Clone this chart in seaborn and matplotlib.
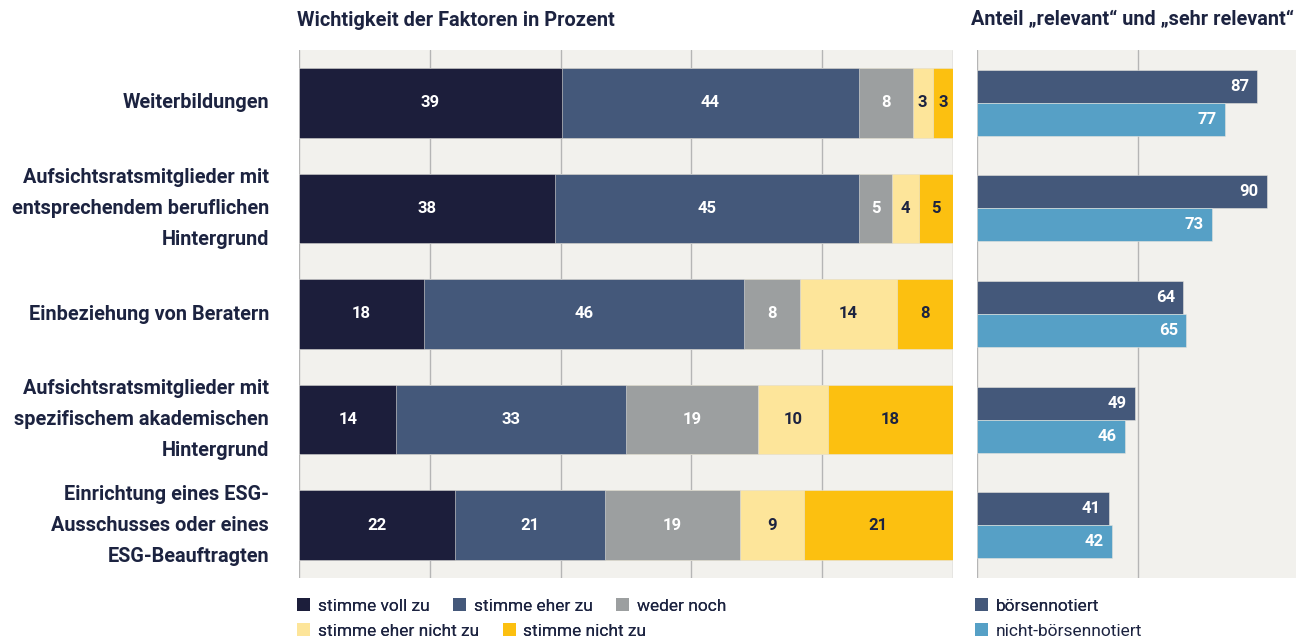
import matplotlib
matplotlib.use("Agg")
import matplotlib.pyplot as plt
from matplotlib.patches import Patch
import seaborn as sns
import pandas as pd
import numpy as np

# ---------------- data ----------------
categories = [
    "Weiterbildungen",
    "Aufsichtsratsmitglieder mit\nentsprechendem beruflichen\nHintergrund",
    "Einbeziehung von Beratern",
    "Aufsichtsratsmitglieder mit\nspezifischem akademischen\nHintergrund",
    "Einrichtung eines ESG-\nAusschusses oder eines\nESG-Beauftragten",
]
stimme_voll_zu = [39, 38, 18, 14, 22]
stimme_eher_zu = [44, 45, 46, 33, 21]
weder_noch = [8, 5, 8, 19, 19]
stimme_eher_nicht_zu = [3, 4, 14, 10, 9]
stimme_nicht_zu = [3, 5, 8, 18, 21]
series_names = ["stimme voll zu", "stimme eher zu", "weder noch",
                "stimme eher nicht zu", "stimme nicht zu"]

boersennotiert = [87, 90, 64, 49, 41]
nicht_boersennotiert = [77, 73, 65, 46, 42]
group_names = ["börsennotiert", "nicht-börsennotiert"]

title_left = "Wichtigkeit der Faktoren in Prozent"
title_right = "Anteil \u201erelevant\u201c und \u201esehr relevant\u201c"

# ---------------- style ----------------
seg_colors = ["#1c1e3b", "#44587a", "#9c9fa0", "#fde59a", "#fcc010"]
seg_text = ["white", "white", "white", "#1c2340", "#1c2340"]
grp_colors = ["#44587a", "#56a0c6"]
bg = "#f2f1ed"
grid_c = "#b5b5b5"
txt_c = "#1c2340"

sns.set_theme(style="white")
plt.rcParams["font.family"] = ["Roboto", "DejaVu Sans"]

W, H = 1296, 639
fig = plt.figure(figsize=(W / 100, H / 100), dpi=100)
fig.patch.set_facecolor("white")

def fx(px):
    return px / W

def fy(py):
    return 1 - py / H

ax_l = fig.add_axes([fx(299), fy(578), fx(654), fy(50) - fy(578)])
ax_r = fig.add_axes([fx(977), fy(578), fx(322), fy(50) - fy(578)])

# ---------------- left: stacked percent bars ----------------
raw = np.array([stimme_voll_zu, stimme_eher_zu, weder_noch,
                stimme_eher_nicht_zu, stimme_nicht_zu], dtype=float)
totals = raw.sum(axis=0)
share = raw / totals * 100
cum = np.cumsum(share, axis=0)

ax_l.set_facecolor(bg)
for i in range(len(series_names) - 1, -1, -1):
    df = pd.DataFrame({"cat": categories, "val": cum[i]})
    sns.barplot(data=df, y="cat", x="val", orient="h", ax=ax_l,
                color=seg_colors[i], saturation=1, width=0.66,
                edgecolor="#e6e4de", linewidth=0.4, zorder=3)

for i in range(len(series_names)):
    starts = cum[i] - share[i]
    for j in range(len(categories)):
        ax_l.text(starts[j] + share[i][j] / 2, j, f"{int(raw[i][j])}",
                  ha="center", va="center", fontsize=12, fontweight="bold",
                  color=seg_text[i], zorder=5)

ax_l.set_xlim(0, 100)
ax_l.set_ylim(4.5, -0.5)
ax_l.set_xticks([0, 20, 40, 60, 80, 100])
ax_l.xaxis.grid(True, color=grid_c, linewidth=1, zorder=0)
ax_l.set_axisbelow(True)
ax_l.tick_params(axis="x", length=0, labelbottom=False)
ax_l.set_yticks(range(len(categories)))
ax_l.set_yticklabels(categories, fontsize=14.3, fontweight="bold",
                     color=txt_c, linespacing=1.8, ha="right", va="center")
ax_l.tick_params(axis="y", length=0, pad=21.5)
ax_l.set_xlabel("")
ax_l.set_ylabel("")
for s in ax_l.spines.values():
    s.set_visible(False)

# ---------------- right: grouped bars ----------------
df_r = pd.DataFrame({
    "cat": categories * 2,
    "val": boersennotiert + nicht_boersennotiert,
    "grp": [group_names[0]] * len(categories) + [group_names[1]] * len(categories),
})
ax_r.set_facecolor(bg)
sns.barplot(data=df_r, y="cat", x="val", hue="grp", orient="h", ax=ax_r,
            palette=grp_colors, saturation=1, width=0.625, dodge=True,
            edgecolor="#e6e4de", linewidth=0.4, legend=False, zorder=3)

for k, vals in enumerate([boersennotiert, nicht_boersennotiert]):
    off = -0.156 if k == 0 else 0.156
    for j, v in enumerate(vals):
        ax_r.text(v - 2.5, j + off, f"{v}", ha="right", va="center",
                  fontsize=12, fontweight="bold", color="white", zorder=5)

ax_r.set_xlim(0, 100)
ax_r.set_ylim(4.5, -0.5)
ax_r.set_xticks([0, 50])
ax_r.xaxis.grid(True, color=grid_c, linewidth=1, zorder=0)
ax_r.set_axisbelow(True)
ax_r.tick_params(axis="both", length=0, labelbottom=False, labelleft=False)
ax_r.set_xlabel("")
ax_r.set_ylabel("")
for s in ax_r.spines.values():
    s.set_visible(False)

# ---------------- titles ----------------
fig.text(fx(297), fy(20), title_left, ha="left", va="center",
         fontsize=14.4, fontweight="bold", color=txt_c)
fig.text(fx(1294), fy(20), title_right, ha="right", va="center",
         fontsize=14.3, fontweight="bold", color=txt_c)

# ---------------- legends ----------------
seg_handles = [Patch(facecolor=c, edgecolor="none", label=n)
               for c, n in zip(seg_colors, series_names)]
grp_handles = [Patch(facecolor=c, edgecolor="none", label=n)
               for c, n in zip(grp_colors, group_names)]

leg_kw = dict(frameon=False, fontsize=12.5, handlelength=0.75, handleheight=0.75,
              handletextpad=0.45, columnspacing=1.35, borderpad=0,
              borderaxespad=0, labelcolor=txt_c, loc="center left")
leg1 = fig.legend(handles=seg_handles[:3], ncol=3,
                  bbox_to_anchor=(fx(297), fy(606)), **leg_kw)
fig.add_artist(leg1)
leg2 = fig.legend(handles=seg_handles[3:], ncol=2,
                  bbox_to_anchor=(fx(297), fy(631)), **leg_kw)
fig.add_artist(leg2)
leg3 = fig.legend(handles=grp_handles[:1], ncol=1,
                  bbox_to_anchor=(fx(975), fy(606)), **leg_kw)
fig.add_artist(leg3)
leg4 = fig.legend(handles=grp_handles[1:], ncol=1,
                  bbox_to_anchor=(fx(975), fy(631)), **leg_kw)

fig.savefig("out.png", dpi=100, facecolor="white")
